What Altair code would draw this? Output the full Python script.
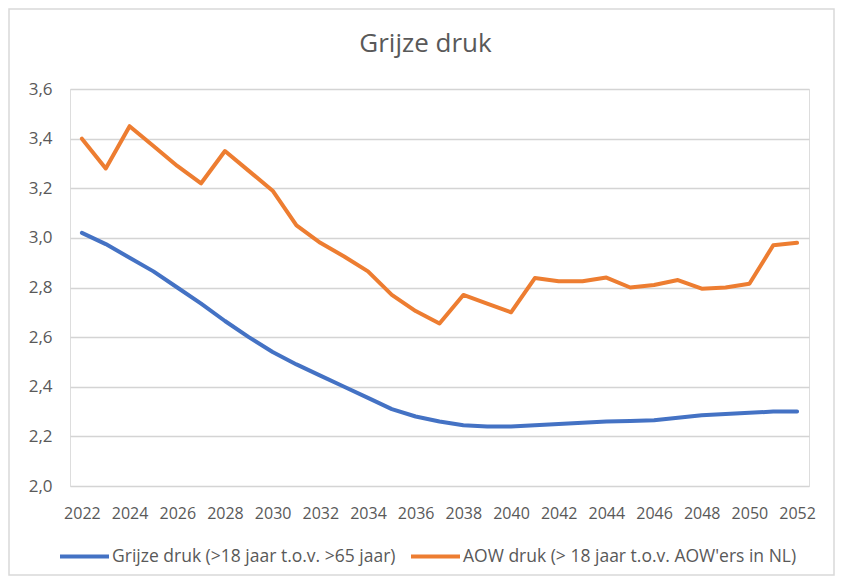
import altair as alt
import pandas as pd

years = list(range(2022, 2053))
grijze = [3.02, 2.975, 2.92, 2.865, 2.80, 2.735, 2.665, 2.60, 2.54, 2.49, 2.445,
          2.40, 2.355, 2.31, 2.28, 2.26, 2.245, 2.24, 2.24, 2.245, 2.25, 2.255,
          2.26, 2.262, 2.265, 2.275, 2.285, 2.29, 2.295, 2.30, 2.30]
aow = [3.40, 3.28, 3.45, 3.37, 3.29, 3.22, 3.35, 3.27, 3.19, 3.05, 2.98,
       2.925, 2.865, 2.77, 2.705, 2.655, 2.77, 2.735, 2.70, 2.838, 2.825, 2.825,
       2.84, 2.80, 2.81, 2.83, 2.795, 2.80, 2.815, 2.97, 2.98]
series_names = ["Grijze druk (>18 jaar t.o.v. >65 jaar)",
                "AOW druk (> 18 jaar t.o.v. AOW'ers in NL)"]
series_colors = ["#4472C4", "#ED7D31"]
x_ticks = list(range(2022, 2053, 2))
y_ticks = [2.0, 2.2, 2.4, 2.6, 2.8, 3.0, 3.2, 3.4, 3.6]

rows = []
for name, vals in zip(series_names, [grijze, aow]):
    for yr, v in zip(years, vals):
        rows.append({"jaar": yr, "waarde": v, "reeks": name})
df = pd.DataFrame(rows)

W, H = 739, 397
PL, PT, PR, PB = 62, 81, 26, 90

lines = alt.Chart(df).mark_line(strokeWidth=4, strokeCap="round", strokeJoin="round").encode(
    x=alt.X("jaar:Q",
            scale=alt.Scale(domain=[2021.5, 2052.5], nice=False, zero=False),
            axis=alt.Axis(values=x_ticks, format="d", title=None, grid=False,
                          ticks=False, tickSize=0, domain=False, labelPadding=19,
                          labelFontSize=16, labelColor="#595959", labelFont="Open Sans")),
    y=alt.Y("waarde:Q",
            scale=alt.Scale(domain=[2.0, 3.6], nice=False, zero=False),
            axis=alt.Axis(values=y_ticks, title=None, grid=True, gridColor="#d4d4d4",
                          gridWidth=1.3, ticks=False, tickSize=0, domain=False,
                          labelPadding=18, labelFontSize=17, labelColor="#595959",
                          labelFont="Open Sans",
                          labelExpr="replace(format(datum.value, '.1f'), '.', ',')")),
    color=alt.Color("reeks:N",
                    scale=alt.Scale(domain=series_names, range=series_colors),
                    sort=series_names,
                    legend=alt.Legend(title=None, orient="none", direction="horizontal",
                                      legendX=-12, legendY=441,
                                      symbolType="stroke", symbolSize=2401,
                                      symbolStrokeWidth=4, labelOffset=1,
                                      columnPadding=7, labelLimit=1000,
                                      labelFontSize=17.5, labelColor="#595959",
                                      labelFont="Open Sans")),
)

border = alt.Chart(pd.DataFrame({"b": [0]})).mark_rect(
    fill=None, fillOpacity=0, stroke="#d9d9d9", strokeWidth=1.5
).encode(
    x=alt.value(-PL + 1), x2=alt.value(W + PR - 1),
    y=alt.value(-PT + 1), y2=alt.value(H + PB - 1),
)

chart = alt.layer(border, lines).properties(
    width=W, height=H,
    title=alt.Title("Grijze druk", fontSize=26, font="Open Sans", fontWeight="normal",
                    color="#595959", anchor="middle", dx=-14, baseline="alphabetic",
                    offset=0, dy=70),
    autosize=alt.AutoSizeParams(type="none"),
    padding={"left": PL, "top": PT, "right": PR, "bottom": PB},
).configure_view(stroke=None).configure(background="white")

chart.save("out.html", embed_options={"renderer": "svg", "actions": False})
